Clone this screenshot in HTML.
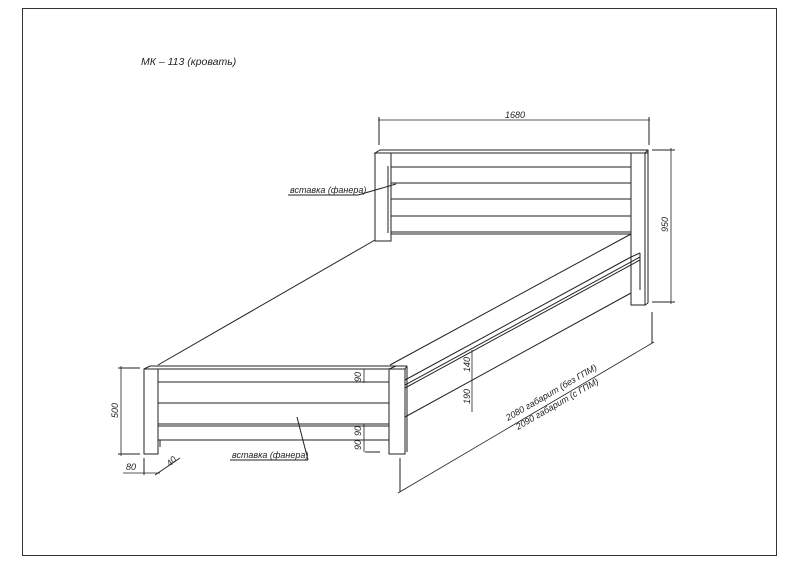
<!DOCTYPE html>
<html><head><meta charset="utf-8"><style>
html,body{margin:0;padding:0;background:#fff;}
svg{display:block;}
text{font-family:"Liberation Sans","DejaVu Sans",sans-serif;font-style:italic;fill:#222;}
</style></head><body>
<svg width="800" height="565" viewBox="0 0 800 565" xmlns="http://www.w3.org/2000/svg">
<rect x="22.5" y="8.5" width="754" height="547" fill="none" stroke="#333" stroke-width="1"/>
<text x="141" y="65" font-size="10.5">МК – 113 (кровать)</text>
<g stroke="#222" stroke-width="1" fill="none">
<!-- headboard -->
<polygon points="375,153 380,150 648,150 648,153" />
<rect x="375" y="153" width="16" height="88" fill="#fff"/>
<line x1="388" y1="166" x2="388" y2="233"/>
<line x1="391" y1="153" x2="631" y2="153"/>
<line x1="391" y1="167" x2="631" y2="167"/>
<line x1="391" y1="183" x2="631" y2="183"/>
<line x1="391" y1="199" x2="631" y2="199"/>
<line x1="391" y1="216" x2="631" y2="216"/>
<line x1="391" y1="232" x2="631" y2="232"/>
<line x1="391" y1="234" x2="631" y2="234"/>
<rect x="631" y="153" width="14" height="152" fill="#fff"/>
<line x1="645" y1="153" x2="648" y2="150"/>
<line x1="648" y1="150" x2="648" y2="303"/>
<line x1="645" y1="305" x2="648" y2="303"/>
<!-- mattress -->
<line x1="158" y1="365" x2="375" y2="240"/>
<line x1="390" y1="365" x2="631" y2="234"/>
<!-- side rail -->
<line x1="405" y1="380" x2="631" y2="257"/>
<line x1="405" y1="385" x2="640" y2="257"/>
<line x1="405" y1="388" x2="640" y2="260"/>
<line x1="631" y1="257" x2="640" y2="253"/>
<line x1="640" y1="253" x2="640" y2="290"/>
<line x1="405" y1="417" x2="631" y2="293"/>
<!-- footboard -->
<rect x="144" y="369" width="14" height="85" fill="#fff"/>
<line x1="144" y1="369" x2="150" y2="366"/>
<line x1="150" y1="366" x2="396" y2="366"/>
<line x1="158" y1="369" x2="390" y2="369"/>
<line x1="158" y1="382" x2="390" y2="382"/>
<line x1="158" y1="403" x2="390" y2="403"/>
<line x1="158" y1="424" x2="390" y2="424"/>
<line x1="158" y1="426" x2="390" y2="426"/>
<line x1="158" y1="440" x2="390" y2="440"/>
<line x1="160" y1="440" x2="160" y2="447"/>
<rect x="389" y="369" width="16" height="85" fill="#fff"/>
<line x1="389" y1="369" x2="396" y2="366"/>
<line x1="396" y1="366" x2="407" y2="366"/>
<line x1="405" y1="369" x2="407" y2="366"/>
<line x1="407" y1="366" x2="407" y2="452"/>
<!-- dims -->
<line x1="379" y1="145" x2="379" y2="117"/>
<line x1="649" y1="145" x2="649" y2="117"/>
<line x1="378" y1="120" x2="650" y2="120" stroke-width="0.8"/>
<line x1="652" y1="150" x2="675" y2="150"/>
<line x1="652" y1="302" x2="675" y2="302"/>
<line x1="671" y1="148" x2="671" y2="304" stroke-width="0.8"/>
<line x1="140" y1="368" x2="118" y2="368"/>
<line x1="140" y1="454" x2="118" y2="454"/>
<line x1="121" y1="366" x2="121" y2="456" stroke-width="0.8"/>
<line x1="144" y1="458" x2="144" y2="475"/>
<line x1="123" y1="473" x2="160" y2="473" stroke-width="0.8"/>
<line x1="155" y1="475" x2="180" y2="458"/>
<line x1="364" y1="369" x2="364" y2="383" stroke-width="0.8"/>
<line x1="364" y1="424" x2="364" y2="452" stroke-width="0.8"/>
<line x1="365" y1="452" x2="380" y2="452"/>
<line x1="472" y1="350" x2="472" y2="412" stroke-width="0.8"/>
<line x1="400" y1="458" x2="400" y2="492"/>
<line x1="652" y1="312" x2="652" y2="343"/>
<line x1="398" y1="493" x2="654" y2="342" stroke-width="0.8"/>
<!-- leaders -->
<line x1="288" y1="195" x2="358" y2="195"/>
<line x1="358" y1="195" x2="396" y2="184"/>
<line x1="230" y1="460" x2="308" y2="460"/>
<line x1="308" y1="460" x2="297" y2="417"/>
</g>
<g font-size="9" fill="#222">
<text x="505" y="118">1680</text>
<text transform="translate(668,232) rotate(-90)">950</text>
<text transform="translate(118,418) rotate(-90)">500</text>
<text x="126" y="470">80</text>
<text transform="translate(170,467) rotate(-45)">40</text>
<text transform="translate(361,382) rotate(-90)">90</text>
<text transform="translate(361,436) rotate(-90)">90</text>
<text transform="translate(361,450) rotate(-90)">90</text>
<text transform="translate(470,372) rotate(-90)">140</text>
<text transform="translate(470,404) rotate(-90)">190</text>
<text transform="translate(508,421) rotate(-30)">2080 габарит (без ГПМ)</text>
<text transform="translate(518,430) rotate(-30)">2090 габарит (с ГПМ)</text>
<text x="290" y="193">вставка (фанера)</text>
<text x="232" y="458">вставка (фанера)</text>
</g>
</svg>
</body></html>
